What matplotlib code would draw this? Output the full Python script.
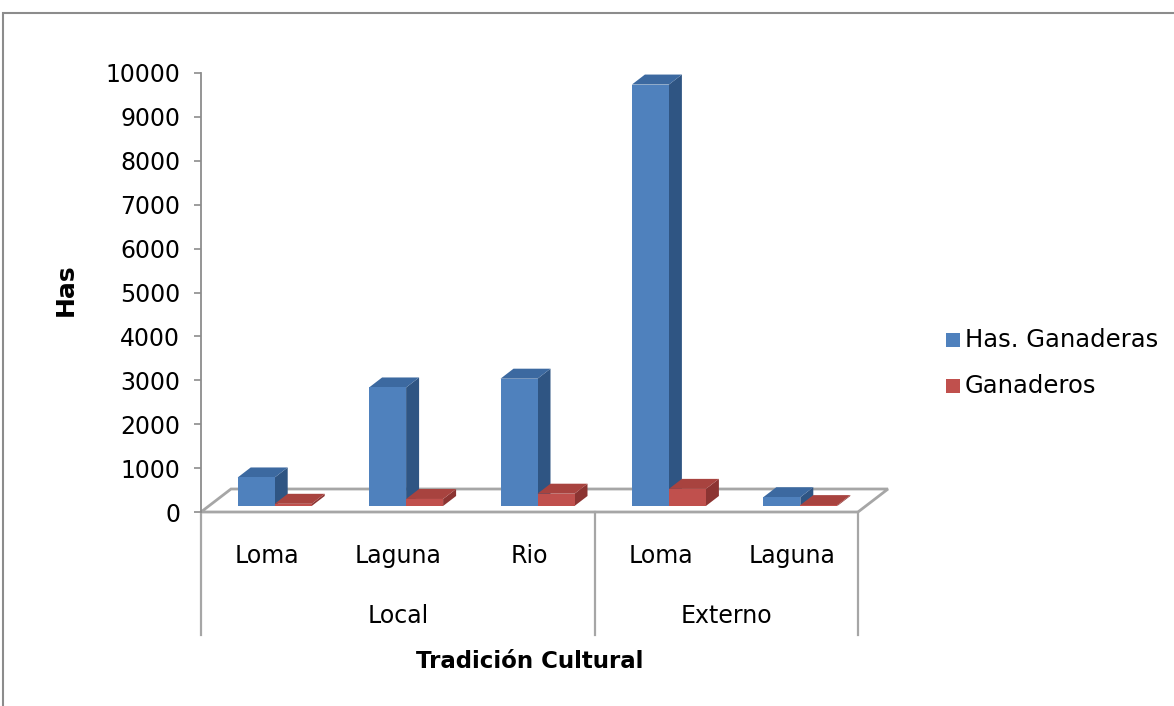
import matplotlib
matplotlib.use("Agg")
import matplotlib.pyplot as plt
from matplotlib.patches import Polygon, Rectangle

# ---- data ----
sites = ["Loma", "Laguna", "Rio", "Loma", "Laguna"]
groups = ["Local", "Externo"]
group_sizes = [3, 2]
has_ganaderas = [650, 2700, 2900, 9600, 200]
ganaderos = [50, 160, 280, 390, 20]
series_names = ["Has. Ganaderas", "Ganaderos"]
y_ticks = [0, 1000, 2000, 3000, 4000, 5000, 6000, 7000, 8000, 9000, 10000]
x_title = "Tradición Cultural"
y_title = "Has"

# ---- styling ----
W, H = 1174, 706
BLUE = ("#4F81BD", "#3C69A0", "#2F5583")   # front, top, side
RED = ("#C0504D", "#A8433F", "#8C3432")
GRID = "#A6A6A6"
FONT = "DejaVu Sans"

fig = plt.figure(figsize=(W / 100, H / 100), dpi=100)
fig.patch.set_facecolor("white")

# plot area in pixels: x 201..858, y 512 (value 0) .. 73 (value 10000)
ax_left, ax_right, ax_bottom, ax_top = 201, 858, 512, 73
ax = fig.add_axes([ax_left / W, 1 - ax_bottom / H,
                   (ax_right - ax_left) / W, (ax_bottom - ax_top) / H])
n = len(sites)
ax.set_xlim(0, n)
ax.set_ylim(y_ticks[0], y_ticks[-1])
ax.patch.set_visible(False)

# pixel -> data conversion factors
sx = n / (ax_right - ax_left)
sy = (y_ticks[-1] - y_ticks[0]) / (ax_bottom - ax_top)

# oblique depth of the floor and of the columns
floor_dx, floor_dy = 30 * sx, 23 * sy
front_dx, front_dy = 8 * sx, 6 * sy
bar_dx, bar_dy = 13 * sx, 10 * sy
bar_w = 37 * sx

# floor
floor = Polygon([(0, 0), (n, 0), (n + floor_dx, floor_dy), (floor_dx, floor_dy)],
                closed=True, facecolor="white", edgecolor=GRID, lw=2,
                clip_on=False, zorder=1)
ax.add_patch(floor)


def column(x0, value, colors, z):
    front, top, side = colors
    b = front_dy
    t = b + value
    ax.bar([x0], [value], width=bar_w, bottom=b, align="edge",
           color=front, edgecolor="none", zorder=z + 1, clip_on=False)
    ax.add_patch(Polygon([(x0 + bar_w, b), (x0 + bar_w + bar_dx, b + bar_dy),
                          (x0 + bar_w + bar_dx, t + bar_dy), (x0 + bar_w, t)],
                         closed=True, facecolor=side, edgecolor="none",
                         zorder=z, clip_on=False))
    ax.add_patch(Polygon([(x0, t), (x0 + bar_w, t),
                          (x0 + bar_w + bar_dx, t + bar_dy), (x0 + bar_dx, t + bar_dy)],
                         closed=True, facecolor=top, edgecolor="none",
                         zorder=z, clip_on=False))


for i in range(n):
    c = i + 0.5 + front_dx
    column(c - bar_w, has_ganaderas[i], BLUE, 3)
    column(c, ganaderos[i], RED, 5)

# value axis
for s in ("top", "right", "bottom"):
    ax.spines[s].set_visible(False)
ax.spines["left"].set_color("#8C8C8C")
ax.spines["left"].set_linewidth(1.3)
ax.set_yticks(y_ticks)
ax.set_yticklabels([str(v) for v in y_ticks])
ax.tick_params(axis="y", direction="out", length=5, width=1.2, color="#8C8C8C",
               pad=10, labelsize=17)
for lbl in ax.get_yticklabels():
    lbl.set_fontfamily(FONT)
ax.set_xticks([])

# category axis: separators and two label rows
sep_bottom = -(635 - ax_bottom) * sy
bounds = [0]
for g in group_sizes:
    bounds.append(bounds[-1] + g)
for bx in bounds:
    ax.plot([bx, bx], [0, sep_bottom], color=GRID, lw=1.6, clip_on=False, zorder=2)

row1_y = -(556 - ax_bottom) * sy
row2_y = -(616 - ax_bottom) * sy
for i, s in enumerate(sites):
    ax.text(i + 0.5, row1_y, s, ha="center", va="center", fontsize=17,
            family=FONT, clip_on=False)
for gi, g in enumerate(groups):
    ax.text((bounds[gi] + bounds[gi + 1]) / 2, row2_y, g, ha="center", va="center",
            fontsize=17, family=FONT, clip_on=False)

# axis titles
fig.text(530 / W, 1 - 662 / H, x_title, ha="center", va="center",
         fontsize=16.5, fontweight="bold", family=FONT)
fig.text(66 / W, 1 - 290 / H, y_title, ha="center", va="center", rotation=90,
         fontsize=18, fontweight="bold", family=FONT)

# legend
for k, (name, col) in enumerate(zip(series_names, (BLUE[0], RED[0]))):
    cy = 340 + k * 46
    fig.add_artist(Rectangle((946 / W, 1 - (cy + 7) / H), 14 / W, 14 / H,
                             transform=fig.transFigure, facecolor=col,
                             edgecolor="none"))
    fig.text(965 / W, 1 - cy / H, name, ha="left", va="center", fontsize=17.5,
             family=FONT)

# chart border
fig.add_artist(Rectangle((3 / W, -20 / H), 1200 / W, (706 - 13 + 20) / H,
                         transform=fig.transFigure, fill=False,
                         edgecolor="#8C8C8C", lw=1.5))

fig.savefig("out.png", dpi=100, facecolor="white")
